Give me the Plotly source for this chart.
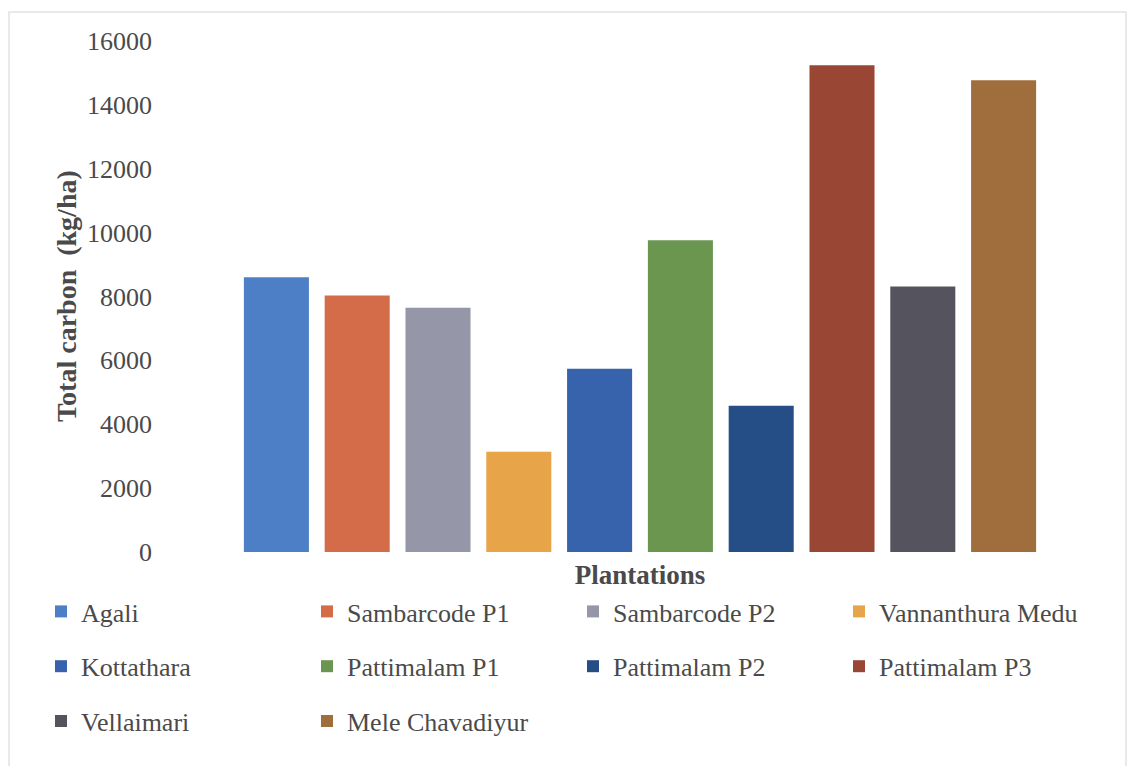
import plotly.graph_objects as go

# Total carbon stock per plantation (kg/ha)
plantations = [
    "Agali", "Sambarcode P1", "Sambarcode P2", "Vannanthura Medu", "Kottathara",
    "Pattimalam P1", "Pattimalam P2", "Pattimalam P3", "Vellaimari", "Mele Chavadiyur",
]
total_carbon = [8600, 8030, 7650, 3140, 5740, 9760, 4580, 15240, 8310, 14770]
bar_colors = [
    "#4C7FC6", "#D46C4A", "#9597A8", "#E8A448", "#3762AC",
    "#6A9650", "#244E85", "#9A4635", "#55545E", "#A06D3C",
]
y_ticks = [0, 2000, 4000, 6000, 8000, 10000, 12000, 14000, 16000]

# legend columns (4 across, filled row by row)
legend_ids = ["legend", "legend2", "legend3", "legend4"]

W, H = 1129, 766
FONT = "Liberation Serif"
TXT = "#4a4a4a"

fig = go.Figure()
for i, (name, val, col) in enumerate(zip(plantations, total_carbon, bar_colors)):
    fig.add_trace(go.Bar(
        x=[name], y=[val], name=name,
        marker=dict(color=col, line=dict(width=0)),
        legend=legend_ids[i % 4], legendgroup=name,
        showlegend=True,
    ))

col_left = [55, 321, 587, 853]
legend_common = dict(
    orientation="v", xref="container", yref="container",
    xanchor="left", yanchor="top",
    font=dict(family=FONT, size=26, color=TXT),
    bgcolor="rgba(0,0,0,0)", tracegroupgap=18,
    itemsizing="constant",
)
legends = {}
for k, lid in enumerate(legend_ids):
    legends[lid] = dict(x=(col_left[k] - 14) / W, y=1 - 588 / H, **legend_common)

fig.update_layout(
    width=W, height=H,
    margin=dict(l=236, r=85, t=41, b=214, autoexpand=False),
    paper_bgcolor="white", plot_bgcolor="white",
    barmode="overlay", bargap=0.195,
    font=dict(family=FONT, color=TXT),
    xaxis=dict(
        showticklabels=False, showgrid=False, zeroline=False, showline=False,
        ticks="",
        title=dict(text="<b>Plantations</b>", font=dict(family=FONT, size=27, color=TXT), standoff=13),
    ),
    yaxis=dict(
        range=[0, 16000], tickvals=y_ticks, ticktext=[str(v) for v in y_ticks],
        showgrid=False, zeroline=False, showline=False, ticks="",
        tickfont=dict(family=FONT, size=26, color=TXT),
        ticklabelstandoff=83,
    ),
    **legends,
)

# y-axis title
fig.add_annotation(
    text="<b>Total carbon  (kg/ha)</b>", textangle=-90,
    xref="paper", yref="paper", x=(66 - 236) / 808, y=(552 - 296) / 511,
    xanchor="center", yanchor="middle", showarrow=False,
    font=dict(family=FONT, size=28, color=TXT),
)

# chart frame
fig.add_shape(
    type="rect", xref="paper", yref="paper",
    x0=(9 - 236) / 808, x1=(1126 - 236) / 808,
    y0=(552 - 780) / 511, y1=(552 - 12) / 511,
    line=dict(color="#E2E2E8", width=1.5), fillcolor="rgba(0,0,0,0)", layer="below",
)

fig.write_html("out.html")
